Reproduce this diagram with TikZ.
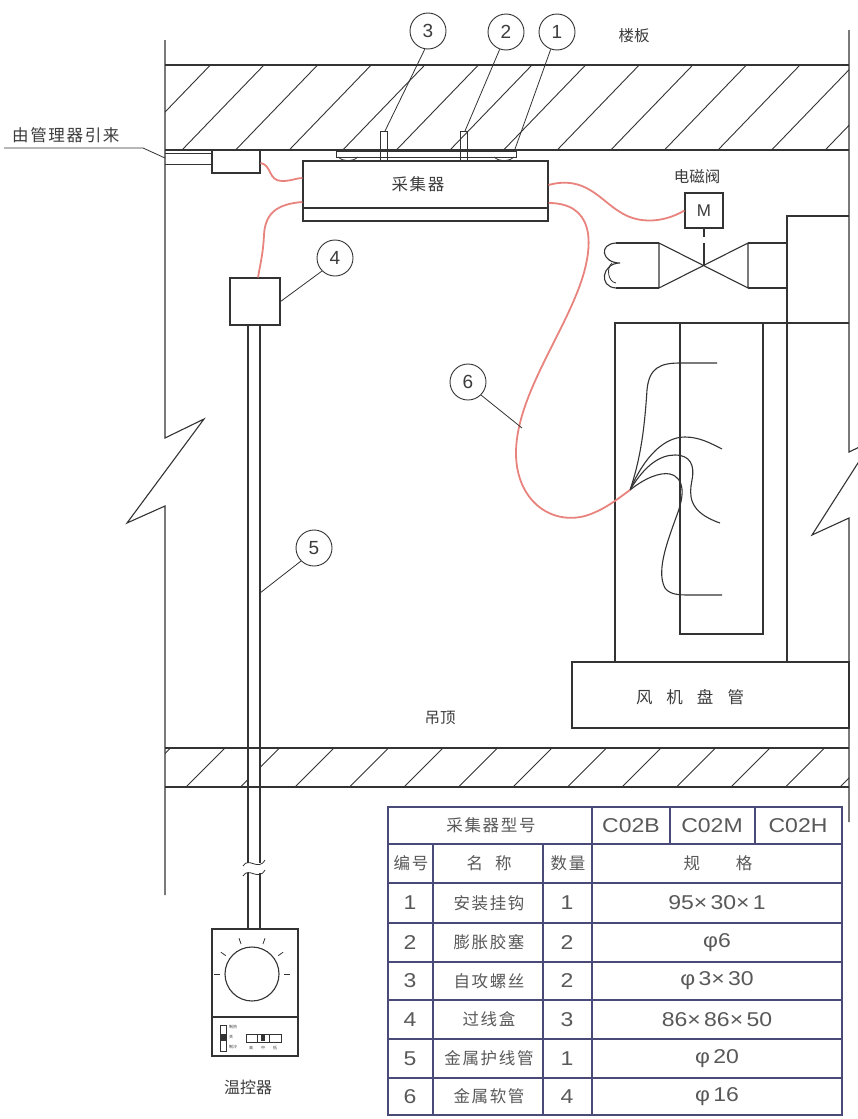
\documentclass[tikz,border=0pt]{standalone}
\usepackage{fontspec}
\newfontfamily\cjk{Noto Sans CJK SC}
\newfontfamily\cjks{Noto Sans CJK SC}[LetterSpace=10]
\newfontfamily\lat{Liberation Sans}
\newfontfamily\latw{Liberation Sans}[FakeStretch=1.15]
\definecolor{linec}{HTML}{333333}
\definecolor{wirec}{HTML}{E8837E}
\definecolor{tabc}{HTML}{4A4A78}
\definecolor{textc}{HTML}{3C3C3C}
\begin{document}
\begin{tikzpicture}[x=1pt,y=-1pt,
  ln/.style={draw=linec, line width=1.1pt},
  hatch/.style={draw=linec, line width=0.9pt},
  fine/.style={draw=linec, line width=0.8pt},
  wire/.style={draw=wirec, line width=1.8pt},
  fanwire/.style={draw=linec, line width=1.1pt},
  boxn/.style={draw=linec, line width=1.1pt, rectangle, inner sep=0pt},
  numc/.style={circle, draw=linec, line width=0.9pt, minimum size=36pt, inner sep=0pt,
    font=\lat\fontsize{19}{19}\selectfont, text=textc},
  lbl/.style={font=\cjk\fontsize{15.5}{15.5}\selectfont, text=textc, inner sep=0pt},
  wlbl/.style={font=\cjks\fontsize{16.5}{16.5}\selectfont, text=textc, inner sep=0pt},
  tabl/.style={draw=tabc, line width=1.1pt},
  tabt/.style={font=\cjks\fontsize{16.5}{16.5}\selectfont, text=textc!85, inner sep=0pt},
  tabn/.style={font=\latw\fontsize{20}{20}\selectfont, text=textc!85, inner sep=0pt},
  tiny/.style={font=\cjk\fontsize{4}{4}\selectfont, text=textc, inner sep=0pt}
]
\useasboundingbox (0,0) rectangle (858,1119);
\fill[white] (0,0) rectangle (858,1119);

% ---------- floor slab (楼板) ----------
\begin{scope}
  \clip (165,65) rectangle (849,150);
  \foreach \k in {-1,...,13} { \draw[hatch] ({182+53.6*\k},150) -- ++(82,-85); }
\end{scope}
\draw[ln] (165,65) -- (849,65);
\draw[ln] (165,150) -- (849,150);
\node[lbl] (floorlbl) at (634,36) {楼板};

% ---------- walls with break lines ----------
\draw[ln] (165,40) -- (165,438) -- (204,419) -- (127,523) -- (165,506) -- (165,895);
\draw[ln] (849,30) -- (849,452) -- (872,441) -- (812,535) -- (849,518) -- (849,822);

% ---------- suspended ceiling (吊顶) ----------
\begin{scope}
  \clip (165,748) rectangle (849,787);
  \foreach \k in {-1,...,13} { \draw[hatch] ({186+54.5*\k},787) -- ++(39,-39); }
\end{scope}
\fill[white] (249,747) rectangle (259,788);
\draw[ln] (165,748) -- (849,748);
\draw[ln] (165,787) -- (849,787);
\node[lbl] (ceillbl) at (440,718) {吊顶};

% ---------- incoming line from the manager ----------
\node[wlbl, anchor=south west] (srclbl) at (12,143) {由管理器引来};
\coordinate (srcend) at (165,158);
\draw[fine] (4,148) -- (143,148) -- (srcend);
\node[boxn, minimum width=48pt, minimum height=23pt] (jb) at (236,161.5) {};
\draw[fine] (165,153) -- (jb.west |- 0,153);
\draw[fine] (165,164) -- (jb.west |- 0,164);

% ---------- collector (采集器) and its mounting ----------
\node[boxn, minimum width=245pt, minimum height=60pt] (coll) at (425.5,191) {};
\draw[ln] (coll.west |- 0,208) -- (coll.east |- 0,208);
\node[wlbl] (colltext) at (418,184) {采集器};
% mounting plate, hooks and screws
\draw[fine] (336,151) rectangle (516,157);
\draw[fine] (338,157) .. controls (344,162) and (352,162) .. (358,157);
\draw[fine] (494,157) .. controls (500,162) and (508,162) .. (514,157);
\draw[fine] (380,131) rectangle (387,161);
\draw[fine] (460,131) rectangle (467,161);
\draw[fine] (377,150) -- (390,150);
\draw[fine] (457,150) -- (470,150);
\coordinate (screwL) at (385,131);
\coordinate (screwR) at (465,131);
\coordinate (hookR) at (515,149);

% ---------- reference circles on top ----------
\node[numc] (c3) at (428,31) {3};
\node[numc] (c2) at (506,32) {2};
\node[numc] (c1) at (557,32) {1};
\draw[fine] (c3.260) -- (screwL);
\draw[fine] (c2.250) -- (screwR);
\draw[fine] (c1.250) -- (hookR);

% ---------- junction box 4 and protective conduit 5 ----------
\node[boxn, minimum width=50pt, minimum height=47pt] (bx4) at (255,301.5) {};
\node[numc] (c4) at (335,258) {4};
\draw[fine] (bx4.east) -- (c4.south west);

\node[boxn, minimum width=86pt, minimum height=127pt] (tc) at (255,992.5) {};
\draw[ln] (bx4.south -| 248,0) -- (248,863);
\draw[ln] (bx4.south -| 260,0) -- (260,863);
\draw[ln] (248,873) -- (tc.north -| 248,0);
\draw[ln] (260,873) -- (tc.north -| 260,0);
\draw[fine] (243,866) .. controls (249,856) and (258,872) .. (265,860);
\draw[fine] (243,876) .. controls (249,866) and (258,882) .. (265,870);

\node[numc] (c5) at (314,548) {5};
\coordinate (p5) at (260,593);
\draw[fine] (p5) -- (c5.south west);

% ---------- thermostat (温控器) ----------
\draw[ln] (tc.west |- 0,1017) -- (tc.east |- 0,1017);
\node[circle, draw=linec, line width=1.1pt, minimum size=54pt, inner sep=0pt] (dial) at (252,974) {};
\foreach \a in {0,35,70,110,145,180} {
  \draw[fine] (dial.center) ++({cos(\a)*32},{-sin(\a)*32}) -- ++({cos(\a)*6},{-sin(\a)*6});
}
\draw[fine] (220,1025) rectangle (226,1051);
\fill[linec] (220,1034) rectangle (226,1041);
\node[tiny, anchor=west] (m1) at (229,1027) {制热};
\node[tiny, anchor=west] (m2) at (229,1037) {关};
\node[tiny, anchor=west] (m3) at (229,1047) {制冷};
\draw[fine] (246,1034) rectangle (281,1042);
\draw[fine] (257,1034) -- (257,1042);
\draw[fine] (269,1034) -- (269,1042);
\fill[linec] (261,1035) rectangle (265,1041);
\node[tiny] (s1) at (251,1048) {高};
\node[tiny] (s2) at (263,1048) {中};
\node[tiny] (s3) at (275,1048) {低};
\node[lbl, font=\cjk\fontsize{16}{16}\selectfont] (tclbl) at (248,1087) {温控器};

% ---------- solenoid valve (电磁阀) ----------
\node[boxn, minimum width=38pt, minimum height=35pt, font=\lat\fontsize{17}{17}\selectfont, text=textc] (mv) at (704,210.5) {M};
\node[lbl] (mvlbl) at (697,177) {电磁阀};
\coordinate (vc) at (704,266);
\draw[ln] (mv.south) -- (704,237);
\draw[ln] (704,243) -- (vc);
\draw[ln] (659,243) -- (659,288) -- (748,243) -- (748,288) -- cycle;
\draw[ln] (659,243) -- (616,243);
\draw[ln] (659,288) -- (616,288);
\draw[ln] (616,243) .. controls (598,244) and (602,263) .. (620,263)
                    .. controls (602,263) and (598,287) .. (616,288);
\draw[fine] (612,263) .. controls (606,268) and (608,282) .. (616,283);
\draw[ln] (748,243) -- (787,243);
\draw[ln] (748,288) -- (787,288);
\draw[ln] (849,216) -- (787,216) -- (787,662);

% ---------- fan coil unit (风机盘管) ----------
\draw[ln] (849,323) -- (615,323) -- (615,662);
\draw[ln] (680,323) -- (680,634) -- (763,634) -- (763,323);
\draw[ln] (572,662) rectangle (849,728);
\node[lbl, font=\cjk\fontsize{16.5}{16.5}\selectfont] (fcu) at (690,697) {风\hspace{14pt}机\hspace{14pt}盘\hspace{14pt}管};

% wiring fan inside the unit
\coordinate (fan) at (630,490);
\draw[fanwire] (fan) .. controls (642,455) and (645,420) .. (647,390)
               .. controls (649,368) and (660,363) .. (680,363) -- (717,363);
\draw[fanwire] (fan) .. controls (645,455) and (665,437) .. (685,437)
               .. controls (700,437) and (712,444) .. (722,449);
\draw[fanwire] (fan) .. controls (645,465) and (660,455) .. (675,455)
               .. controls (690,455) and (695,465) .. (692,480)
               .. controls (689,495) and (688,512) .. (720,523);
\draw[fanwire] (fan) .. controls (645,478) and (660,472) .. (670,474)
               .. controls (685,478) and (684,495) .. (678,512)
               .. controls (670,535) and (655,570) .. (665,588)
               .. controls (670,595) and (680,595) .. (690,595) -- (722,595);

% ---------- flexible metal hoses (red) ----------
\draw[wire] (jb.east |- 0,163) .. controls (272,165) and (268,181) .. (282,181)
            .. controls (292,181) and (296,178) .. (coll.west |- 0,178);
\draw[wire] (coll.west |- 0,202) .. controls (275,204) and (265,215) .. (264,235)
            .. controls (263,255) and (260,265) .. (bx4.north -| 258,0);
\draw[wire] (coll.east |- 0,185) .. controls (585,175) and (600,200) .. (620,212)
            .. controls (640,225) and (665,222) .. (mv.west);
\draw[wire] (coll.east |- 0,203) .. controls (592,203) and (596,240) .. (580,285)
            .. controls (560,340) and (515,400) .. (516,455)
            .. controls (517,500) and (550,525) .. (585,516)
            .. controls (605,510) and (620,497) .. (fan);
\node[numc] (c6) at (468,382) {6};
\coordinate (p6) at (522,428);
\draw[fine] (c6.south east) -- (p6);

% ---------- parts table ----------
\draw[tabl] (388,807) rectangle (842,1115);
\foreach \y in {844,883,923,962,1000,1039,1078} { \draw[tabl] (388,\y) -- (842,\y); }
\draw[tabl] (433,844) -- (433,1115);
\draw[tabl] (543,844) -- (543,1115);
\draw[tabl] (592,807) -- (592,1115);
\draw[tabl] (670,807) -- (670,844);
\draw[tabl] (755,807) -- (755,844);

\node[tabt] (h1) at (491,825.5) {采集器型号};
\node[tabn] (h2) at (631,825.5) {C02B};
\node[tabn] (h3) at (712,825.5) {C02M};
\node[tabn] (h4) at (798,825.5) {C02H};
\node[tabt] (g1) at (411,863.5) {编号};
\node[tabt] (g2) at (489,863.5) {名\hspace{12pt}称};
\node[tabt] (g3) at (568,863.5) {数量};
\node[tabt] (g4) at (718,863.5) {规\hspace{36pt}格};

\foreach \n/\nm/\q/\sp/\y in {
  1/安装挂钩/1/95×\,30×\,1/903,
  2/膨胀胶塞/2/φ6/942.5,
  3/自攻螺丝/2/φ\,3×\,30/981,
  4/过线盒/3/86×\,86×\,50/1019.5,
  5/金属护线管/1/φ\,20/1058.5,
  6/金属软管/4/φ\,16/1096.5} {
  \node[tabn] at (410,\y) {\n};
  \node[tabt] at (489,\y) {\nm};
  \node[tabn] at (567,\y) {\q};
  \node[tabn] at (717,\y) {\sp};
}
\end{tikzpicture}
\end{document}
